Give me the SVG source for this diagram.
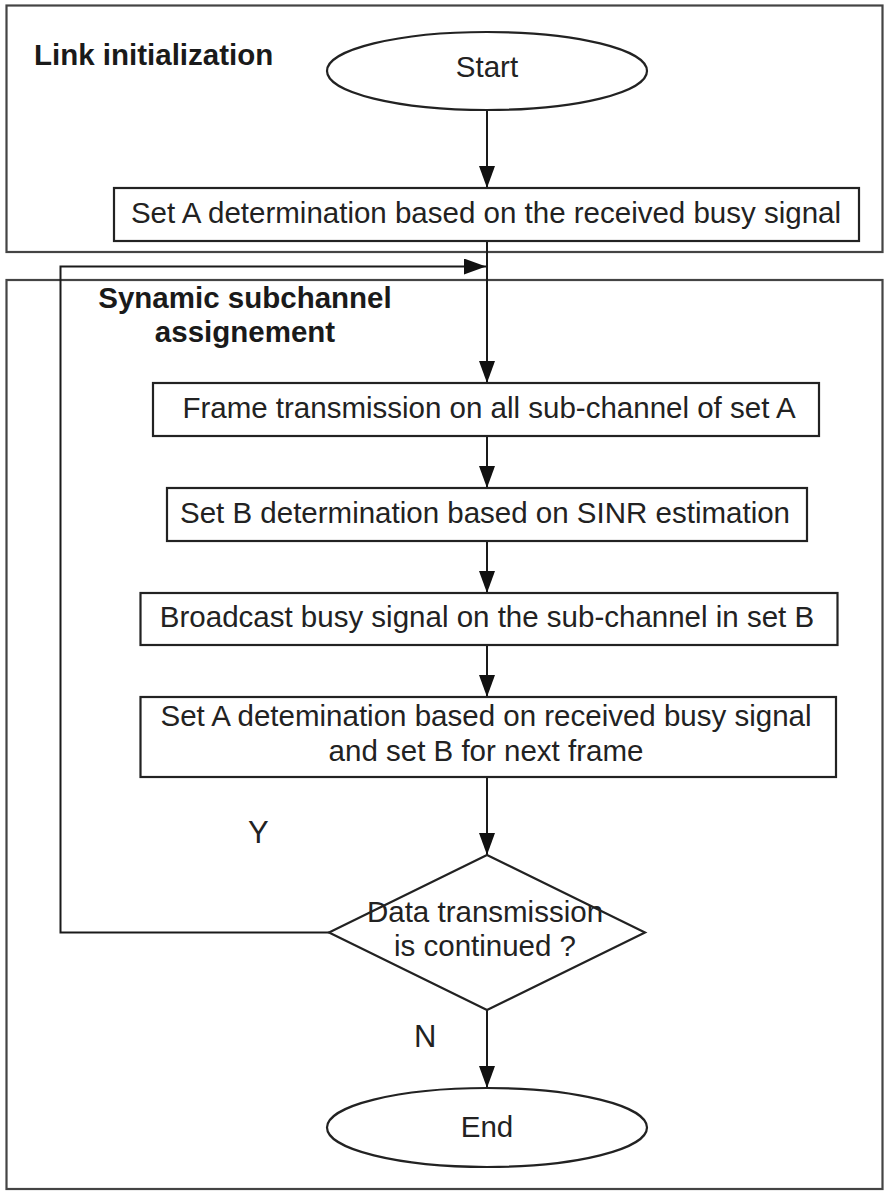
<svg xmlns="http://www.w3.org/2000/svg" width="884" height="1192" viewBox="0 0 884 1192">
  <defs>
    <marker id="arrow" markerUnits="userSpaceOnUse" markerWidth="24" markerHeight="16" refX="22" refY="8" orient="auto">
      <path d="M0,0 L22,8 L0,16 Z" fill="#111"/>
    </marker>
    <style>
      .frame { fill: none; stroke: #444; stroke-width: 2.2; }
      .shape { fill: #fff; stroke: #222; stroke-width: 2.2; }
      .conn { fill: none; stroke: #1a1a1a; stroke-width: 2; }
      .txt { font-family: "Liberation Sans", Arial, sans-serif; font-size: 29.5px; fill: #222; text-anchor: middle; }
      .title { font-family: "Liberation Sans", Arial, sans-serif; font-size: 29.5px; font-weight: bold; fill: #1a1a1a; }
      .lbl { font-family: "Liberation Sans", Arial, sans-serif; font-size: 31px; fill: #222; }
    </style>
  </defs>
  <rect width="884" height="1192" fill="#fff"/>

  <!-- phase frames -->
  <g id="frame-init">
    <rect class="frame" x="6.5" y="5.5" width="876" height="246.5"/>
    <text class="title" x="34" y="65">Link initialization</text>
  </g>
  <g id="frame-dynamic">
    <rect class="frame" x="6.5" y="280" width="876" height="909"/>
    <text class="title" x="245" y="308" text-anchor="middle">Synamic subchannel</text>
    <text class="title" x="245" y="342" text-anchor="middle">assignement</text>
  </g>

  <!-- connectors -->
  <g id="connectors">
    <line class="conn" x1="487" y1="110" x2="487" y2="188" marker-end="url(#arrow)"/>
    <line class="conn" x1="487" y1="241" x2="487" y2="383" marker-end="url(#arrow)"/>
    <line class="conn" x1="487" y1="436" x2="487" y2="488" marker-end="url(#arrow)"/>
    <line class="conn" x1="487" y1="541" x2="487" y2="593" marker-end="url(#arrow)"/>
    <line class="conn" x1="487" y1="645" x2="487" y2="697" marker-end="url(#arrow)"/>
    <line class="conn" x1="487" y1="777" x2="487" y2="855" marker-end="url(#arrow)"/>
    <line class="conn" x1="487" y1="1010" x2="487" y2="1088" marker-end="url(#arrow)"/>
    <polyline class="conn" points="329,932.5 60.5,932.5 60.5,266.5 486,266.5" marker-end="url(#arrow)"/>
    <text class="lbl" x="248" y="843">Y</text>
    <text class="lbl" x="414" y="1047">N</text>
  </g>

  <!-- nodes -->
  <g id="start">
    <ellipse class="shape" cx="487" cy="71" rx="160" ry="39"/>
    <text class="txt" x="487" y="77">Start</text>
  </g>
  <g id="set-a-init">
    <rect class="shape" x="114" y="188" width="745" height="53"/>
    <text class="txt" x="486" y="223">Set A determination based on the received busy signal</text>
  </g>
  <g id="frame-tx">
    <rect class="shape" x="153" y="383" width="666" height="53"/>
    <text class="txt" x="489" y="418">Frame transmission on all sub-channel of set A</text>
  </g>
  <g id="set-b">
    <rect class="shape" x="167" y="488" width="640" height="53"/>
    <text class="txt" x="485" y="523">Set B determination based on SINR estimation</text>
  </g>
  <g id="broadcast">
    <rect class="shape" x="140.5" y="593" width="697" height="52"/>
    <text class="txt" x="487" y="627">Broadcast busy signal on the sub-channel in set B</text>
  </g>
  <g id="set-a-next">
    <rect class="shape" x="140.5" y="697" width="695.5" height="80"/>
    <text class="txt" x="486" y="726">Set A detemination based on received busy signal</text>
    <text class="txt" x="486" y="761">and set B for next frame</text>
  </g>
  <g id="decision">
    <polygon class="shape" points="487,855 645,932.5 487,1010 329,932.5"/>
    <text class="txt" x="485" y="922">Data transmission</text>
    <text class="txt" x="485" y="956">is continued ?</text>
  </g>
  <g id="end">
    <ellipse class="shape" cx="487" cy="1127.5" rx="160" ry="39.5"/>
    <text class="txt" x="487" y="1137">End</text>
  </g>
</svg>
